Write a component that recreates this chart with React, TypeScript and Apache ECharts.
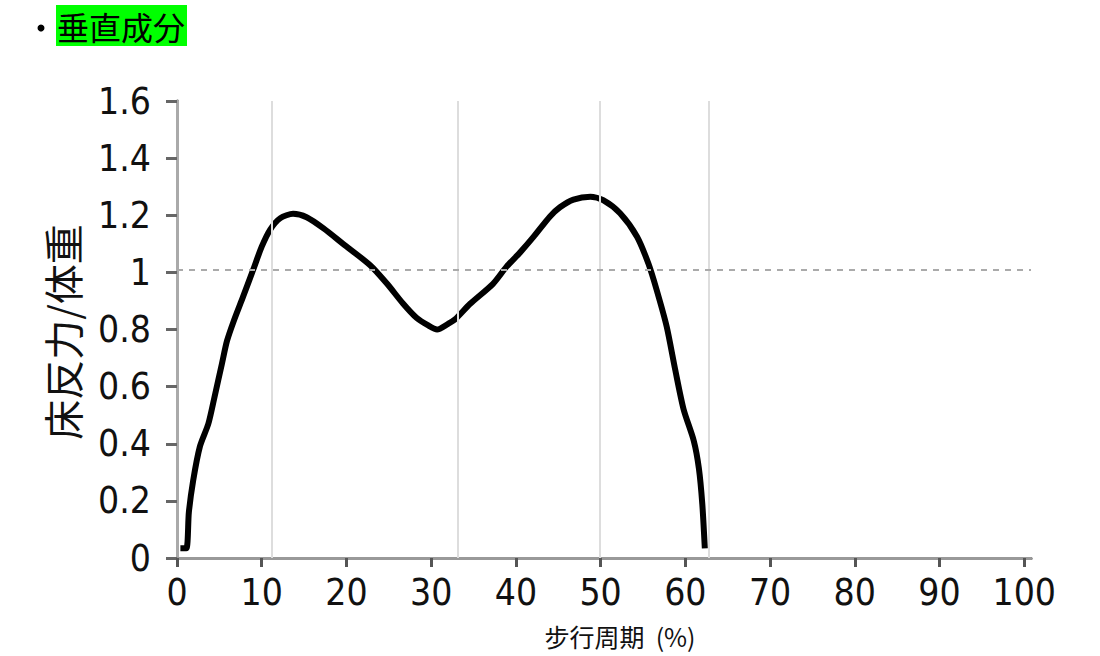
import React, { useEffect, useRef } from "react";
import * as echarts from "echarts";

const titleText = "垂直成分";
const yAxisName = "床反力/体重";
const xAxisName = "步行周期  (%)";
const xTicks = [0, 10, 20, 30, 40, 50, 60, 70, 80, 90, 100];
const yTicks = [0, 0.2, 0.4, 0.6, 0.8, 1, 1.2, 1.4, 1.6];
const phaseLines = [11.2, 33.1, 49.9, 62.8];
const bodyWeightLine = 1.01;

const cycleX = [
  0.4, 1.1, 1.4, 1.9, 2.7, 3.7, 4.4, 5.3, 5.9, 6.7, 7.8, 9.0, 10.0, 11.0, 12.2, 13.7,
  15.3, 17.3, 19.6, 22.8, 24.8, 26.7, 28.3, 29.6, 30.7, 32.0, 32.8, 34.6, 37.3, 38.9,
  40.5, 42.1, 44.0, 45.2, 46.8, 48.8, 50.3, 52.3, 54.3, 55.65, 56.6, 57.8, 58.8, 59.8,
  61.0, 61.6, 62.0, 62.3,
];
const forceY = [
  0.034, 0.034, 0.16, 0.27, 0.39, 0.47, 0.56, 0.68, 0.76, 0.83, 0.915, 1.01, 1.09, 1.15,
  1.19, 1.205, 1.193, 1.154, 1.1, 1.025, 0.96, 0.89, 0.84, 0.815, 0.8, 0.82, 0.835, 0.89,
  0.96, 1.02, 1.07, 1.125, 1.195, 1.228, 1.255, 1.265, 1.253, 1.207, 1.125, 1.03, 0.94,
  0.81, 0.66, 0.52, 0.41, 0.314, 0.19, 0.034,
];

const numFont = "'Liberation Sans Narrow', 'DejaVu Sans Condensed', 'Noto Sans', sans-serif";
const cjkFont = "'Noto Sans CJK JP', 'Noto Sans CJK SC', sans-serif";

export default function App() {
  const ref = useRef<HTMLDivElement>(null);
  useEffect(() => {
    document.body.style.margin = "0";
    if (!ref.current) return;
    const chart = echarts.init(ref.current, undefined, { renderer: "svg" });
    const data = cycleX.map((x, i) => [x, forceY[i]]);
    chart.setOption({
      animation: false,
      backgroundColor: "#ffffff",
      grid: { left: 177, top: 101, width: 854, height: 457, containLabel: false },
      graphic: [
        { type: "circle", shape: { cx: 41, cy: 28, r: 3.5 }, style: { fill: "#000" } },
        { type: "rect", shape: { x: 56, y: 5, width: 131, height: 41 }, style: { fill: "#00ff00" } },
        {
          type: "text",
          x: 121,
          y: 26,
          style: {
            text: titleText,
            fontSize: 32,
            fill: "#000",
            fontFamily: cjkFont,
            align: "center",
            verticalAlign: "middle",
          },
        },
        {
          type: "text",
          x: 62,
          y: 332,
          rotation: Math.PI / 2,
          style: {
            text: yAxisName,
            fontSize: 40,
            fill: "#111",
            fontFamily: cjkFont,
            align: "center",
            verticalAlign: "middle",
          },
        },
        {
          type: "text",
          x: 620,
          y: 636,
          style: {
            text: xAxisName,
            fontSize: 25,
            fill: "#111",
            fontFamily: cjkFont,
            align: "center",
            verticalAlign: "middle",
          },
        },
      ],
      xAxis: [
        {
          type: "value",
          min: 0,
          max: 100.8,
          axisLine: { show: true, onZero: false, lineStyle: { color: "#555", width: 3 } },
          axisTick: { show: true, length: 9, customValues: xTicks, lineStyle: { color: "#555", width: 3 } },
          axisLabel: {
            customValues: xTicks,
            fontSize: 37,
            color: "#111",
            fontFamily: numFont,
            margin: 16,
          },
          splitLine: { show: false },
        },
        {
          type: "value",
          position: "top",
          min: 0,
          max: 100.8,
          axisLine: { show: true, lineStyle: { color: "#999", width: 3 } },
          axisTick: { show: false },
          axisLabel: { show: false },
          splitLine: { show: false },
        },
      ],
      yAxis: [
        {
          type: "value",
          min: 0,
          max: 1.6,
          interval: 0.2,
          axisLine: { show: true, lineStyle: { color: "#666", width: 3 } },
          axisTick: { show: true, length: 11, lineStyle: { color: "#666", width: 3 } },
          axisLabel: {
            fontSize: 37,
            color: "#111",
            fontFamily: numFont,
            margin: 26,
            formatter: (v: number) => {
              const t = yTicks.find((k) => Math.abs(k - v) < 1e-6);
              return t === undefined ? "" : String(t);
            },
          },
          splitLine: { show: false },
        },
        {
          type: "value",
          position: "right",
          min: 0,
          max: 1.6,
          axisLine: { show: true, lineStyle: { color: "#aaa", width: 3 } },
          axisTick: { show: false },
          axisLabel: { show: false },
          splitLine: { show: false },
        },
      ],
      series: [
        {
          type: "line",
          data,
          smooth: 0.25,
          symbol: "none",
          lineStyle: { color: "#000", width: 6, cap: "butt", join: "round" },
          markLine: {
            silent: true,
            symbol: "none",
            label: { show: false },
            data: [
              ...phaseLines.map((x) => ({ xAxis: x, lineStyle: { color: "#dddddd", width: 2, type: "solid" } })),
              { yAxis: bodyWeightLine, lineStyle: { color: "#aaaaaa", width: 2, type: [6, 6] } },
            ],
          },
          z: 3,
        },
      ],
    });
    return () => chart.dispose();
  }, []);
  return <div ref={ref} style={{ width: 1100, height: 656 }} />;
}
